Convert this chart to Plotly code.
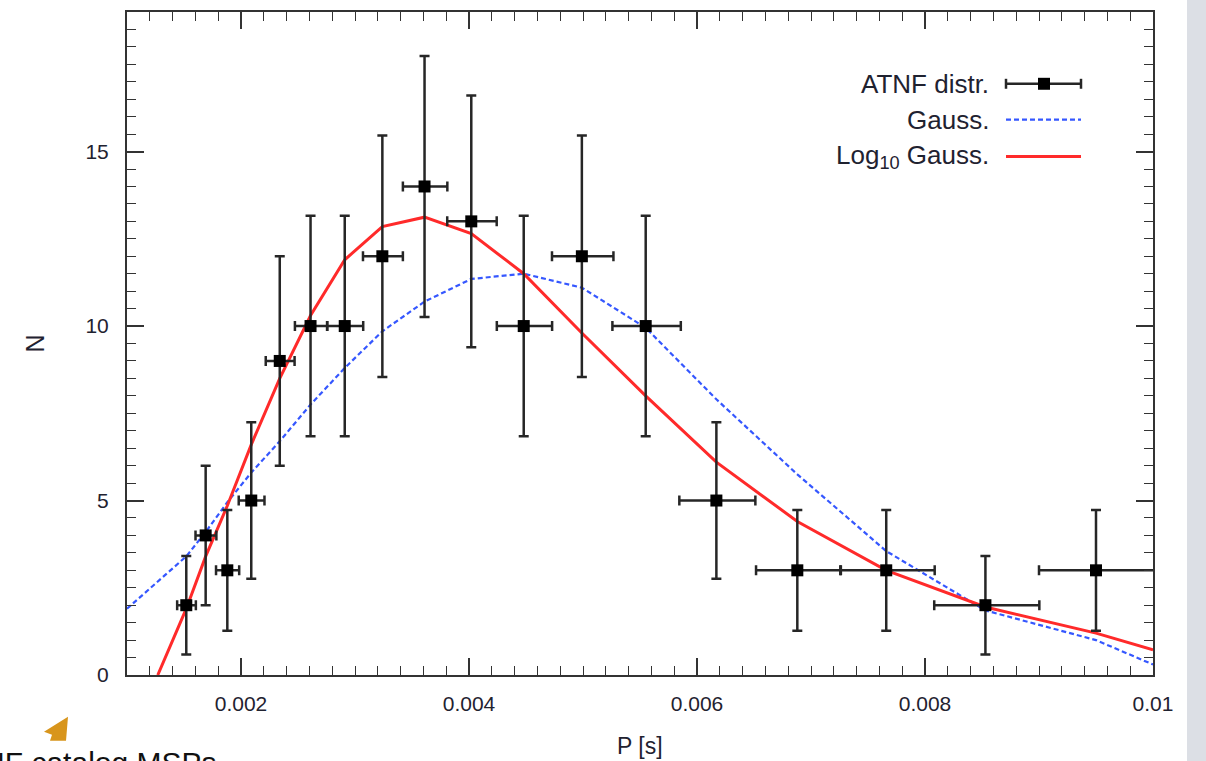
import plotly.graph_objects as go

# ---------------- data ----------------
P_bins = [0.00152, 0.00169, 0.00188, 0.00209, 0.00234, 0.00261, 0.00291, 0.00324, 0.00361,
          0.00402, 0.00448, 0.00499, 0.00555, 0.00617, 0.00688, 0.00766, 0.00853, 0.00950]
N_counts = [2, 4, 3, 5, 9, 10, 10, 12, 14, 13, 10, 12, 10, 5, 3, 3, 2, 3]
N_err = [1.41, 2.0, 1.73, 2.24, 3.0, 3.16, 3.16, 3.46, 3.74, 3.61, 3.16, 3.46, 3.16, 2.24,
         1.73, 1.73, 1.41, 1.73]
P_err_minus = [0.00008, 0.000089, 0.000099, 0.00011, 0.000123, 0.000137, 0.000153, 0.00017,
               0.00019, 0.000211, 0.000236, 0.000262, 0.000292, 0.000325, 0.000362, 0.000403,
               0.000449, 0.0005]
P_err_plus = [0.000084, 0.000094, 0.000104, 0.000116, 0.00013, 0.000145, 0.000162, 0.00018,
              0.0002, 0.000223, 0.000249, 0.000277, 0.000308, 0.000342, 0.000382, 0.000425,
              0.000473, 0.000527]

P_gauss = [0.001, 0.00152, 0.00169, 0.00188, 0.00209, 0.00234, 0.00261, 0.00291, 0.00324,
           0.00361, 0.00402, 0.00448, 0.00499, 0.00555, 0.00617, 0.00688, 0.00766, 0.00853,
           0.00950, 0.01]
N_gauss = [1.9, 3.4, 4.1, 4.95, 5.8, 6.7, 7.75, 8.8, 9.85, 10.7, 11.35, 11.5, 11.1, 9.95,
           7.9, 5.75, 3.55, 1.85, 1.0, 0.3]

P_loggauss = [0.00127, 0.00152, 0.00169, 0.00188, 0.00209, 0.00234, 0.00261, 0.00291, 0.00324,
              0.00361, 0.00402, 0.00448, 0.00499, 0.00555, 0.00617, 0.00688, 0.00766, 0.00853,
              0.00950, 0.01]
N_loggauss = [0.0, 1.9, 3.4, 4.85, 6.6, 8.5, 10.3, 11.9, 12.85, 13.12, 12.65, 11.5, 9.8, 8.0,
              6.1, 4.4, 3.0, 1.95, 1.2, 0.72]

x_tickvals = [0.002, 0.004, 0.006, 0.008, 0.01]
x_ticktext = ["0.002", "0.004", "0.006", "0.008", "0.01"]
y_tickvals = [0, 5, 10, 15]
y_ticktext = ["0", "5", "10", "15"]

legend_labels = ["ATNF distr.", "Gauss.", "Log<sub>10</sub> Gauss."]

# ---------------- layout geometry ----------------
W, H = 1206, 761
L, R, T, B = 127, 1153, 10, 675  # plot area in pixels


def px(x):
    return (x - L) / (R - L)


def py(y):
    return (B - y) / (B - T)


FONT = "Liberation Sans, Arial, Helvetica, sans-serif"
TXT = "#1f2230"
AX = "#333333"
RED = "#ff2a2a"
BLUE = "#3557ff"
EB = "#262626"

fig = go.Figure()

fig.add_trace(go.Scatter(
    x=P_gauss, y=N_gauss, mode="lines",
    line=dict(color=BLUE, width=2.2, dash="5px,3px"),
    showlegend=False, hoverinfo="skip"))

fig.add_trace(go.Scatter(
    x=P_loggauss, y=N_loggauss, mode="lines",
    line=dict(color=RED, width=3),
    showlegend=False, hoverinfo="skip"))

fig.add_trace(go.Scatter(
    x=P_bins, y=N_counts, mode="markers",
    marker=dict(symbol="square", size=12, color="black"),
    error_y=dict(type="data", array=N_err, color=EB, thickness=2.5, width=5),
    error_x=dict(type="data", array=P_err_plus, arrayminus=P_err_minus,
                 color=EB, thickness=2.5, width=5),
    showlegend=False, cliponaxis=True))

axis_common = dict(
    showline=True, linewidth=2, linecolor=AX, mirror="allticks",
    ticks="inside", ticklen=17, tickwidth=1.6, tickcolor=AX,
    showgrid=False, zeroline=False,
    tickfont=dict(family=FONT, size=21, color=TXT),
)

fig.update_layout(
    width=W, height=H, autosize=False,
    margin=dict(l=L, r=W - R, t=T, b=H - B, pad=0),
    paper_bgcolor="white", plot_bgcolor="white",
    showlegend=False,
    xaxis=dict(range=[0.001, 0.01], tickmode="array", tickvals=x_tickvals,
               ticktext=x_ticktext, ticklabelstandoff=9,
               minor=dict(tickmode="linear", tick0=0, dtick=0.0002, ticks="inside",
                          ticklen=9, tickwidth=1.4, tickcolor=AX),
               **axis_common),
    yaxis=dict(range=[0, 19], tickmode="array", tickvals=y_tickvals,
               ticktext=y_ticktext, ticklabelstandoff=12,
               minor=dict(tickmode="linear", tick0=0, dtick=0.5, ticks="inside",
                          ticklen=9, tickwidth=1.4, tickcolor=AX),
               **axis_common),
)

annotations = []
shapes = []

# axis titles
annotations.append(dict(text="P [s]", xref="paper", yref="paper", x=0.5, y=py(746),
                        xanchor="center", yanchor="middle", showarrow=False,
                        font=dict(family=FONT, size=23, color=TXT)))
annotations.append(dict(text="N", xref="paper", yref="paper", x=px(34), y=0.5,
                        xanchor="center", yanchor="middle", showarrow=False, textangle=-90,
                        font=dict(family=FONT, size=25, color=TXT)))

# custom legend (symbols to the right of right-aligned labels)
rows_y = [82, 118, 155]
for lab, ry in zip(legend_labels, rows_y):
    annotations.append(dict(text=lab, xref="paper", yref="paper", x=px(991), y=py(ry),
                            xanchor="right", yanchor="middle", showarrow=False,
                            font=dict(family=FONT, size=26, color=TXT)))
# ATNF sample: error bar + square
shapes.append(dict(type="line", xref="paper", yref="paper", x0=px(1006), x1=px(1081),
                   y0=py(rows_y[0]), y1=py(rows_y[0]), line=dict(color=EB, width=2.5)))
for cx in (1006, 1081):
    shapes.append(dict(type="line", xref="paper", yref="paper", x0=px(cx), x1=px(cx),
                       y0=py(rows_y[0] - 5), y1=py(rows_y[0] + 5), line=dict(color=EB, width=2.5)))
shapes.append(dict(type="rect", xref="paper", yref="paper", x0=px(1038), x1=px(1050),
                   y0=py(rows_y[0] - 6), y1=py(rows_y[0] + 6), fillcolor="black",
                   line=dict(width=0)))
shapes.append(dict(type="line", xref="paper", yref="paper", x0=px(1006), x1=px(1081),
                   y0=py(rows_y[1]), y1=py(rows_y[1]),
                   line=dict(color=BLUE, width=2.2, dash="5px,3px")))
shapes.append(dict(type="line", xref="paper", yref="paper", x0=px(1006), x1=px(1081),
                   y0=py(rows_y[2]), y1=py(rows_y[2]), line=dict(color=RED, width=3)))

# slide decorations: grey side panel, orange arrow head, cut-off caption
shapes.append(dict(type="rect", xref="paper", yref="paper", x0=px(1187), x1=px(1215),
                   y0=py(770), y1=py(-10), fillcolor="#dcdfe5", line=dict(width=0)))
shapes.append(dict(type="path", xref="paper", yref="paper",
                   path="M {} {} L {} {} L {} {} L {} {} L {} {} Z".format(
                       px(68), py(717), px(44), py(732), px(52), py(735),
                       px(50), py(741), px(66), py(741)),
                   fillcolor="#d8951c", line=dict(width=0)))
annotations.append(dict(text="ATNF catalog MSPs", xref="paper", yref="paper",
                        x=px(-55), y=py(744), xanchor="left", yanchor="top",
                        showarrow=False, font=dict(family=FONT, size=30, color="#111111")))

fig.update_layout(annotations=annotations, shapes=shapes)

fig.write_html("out.html")
